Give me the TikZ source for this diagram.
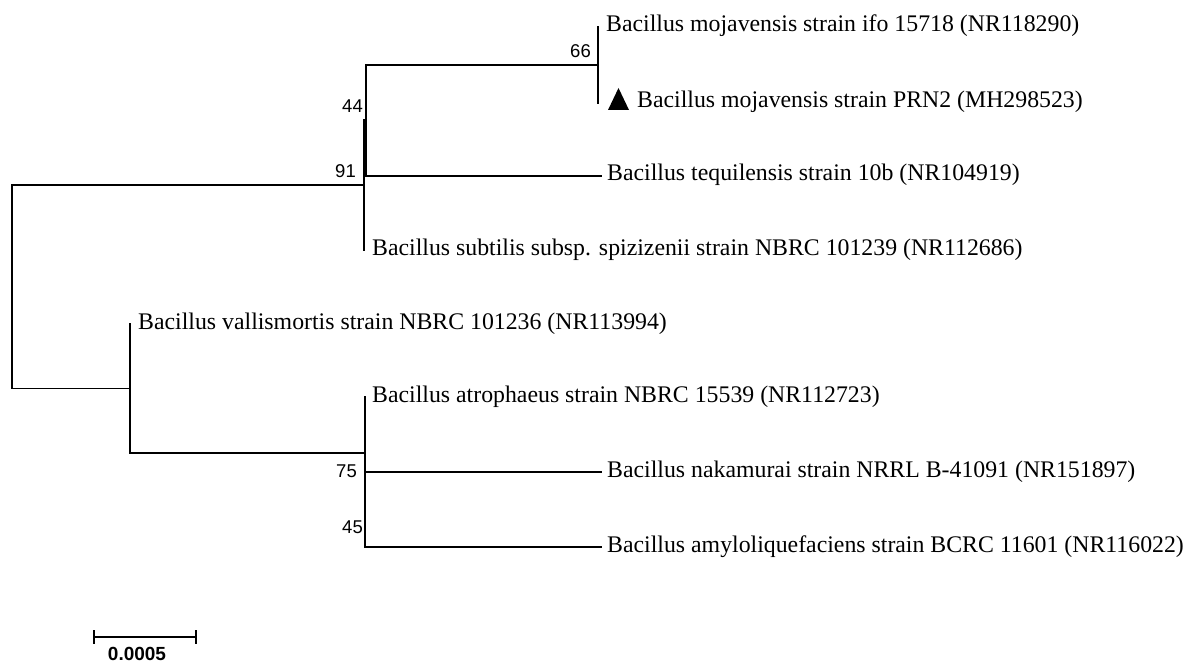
\documentclass[tikz,border=0pt]{standalone}
\usepackage{fontspec}
\setmainfont{Liberation Serif}
\newfontfamily\numfont{Liberation Sans}
\begin{document}
\begin{tikzpicture}[x=1pt,y=-1pt,
  branch/.style={line width=1.5pt, line cap=rect},
  leaf/.style={font=\fontsize{23.8}{24}\selectfont, inner sep=0pt, anchor=base west},
  boot/.style={font=\numfont\fontsize{18.5}{18.5}\selectfont, inner sep=0pt, anchor=base east},
  scalelab/.style={font=\numfont\bfseries\fontsize{19}{19}\selectfont, inner sep=0pt}]
\useasboundingbox (0,0) rectangle (1185,663);
% internal nodes
\coordinate (R)   at (12,286.5);
\coordinate (N91) at (364,185);
\coordinate (N91t) at (364,120);
\coordinate (N44) at (365.8,120);
\coordinate (N66) at (598,65);
\coordinate (NV)  at (130,388.5);
\coordinate (N75) at (365,453);
\coordinate (N45) at (365,509.5);
% leaves
\coordinate (L1) at (598,27);
\coordinate (L2) at (598,103);
\coordinate (L3) at (601,176);
\coordinate (L4) at (364,250);
\coordinate (L5) at (130,324);
\coordinate (L6) at (365,397);
\coordinate (L7) at (601,472);
\coordinate (L8) at (601,547);
% branches
\draw[branch] (R) |- (N91);
\draw[branch] (R) |- (NV);
\draw[branch] (N91t) -- (L4);
\draw[branch] (N44) |- (N66);
\draw[branch] (N44) |- (L3);
\draw[branch] (L1) -- (L2);
\draw[branch] (NV) -- (L5);
\draw[branch] (NV) |- (N75);
\draw[branch] (N75) -- (L6);
\draw[branch] (N75) -- (N45);
\draw[branch] (N45) |- (L7);
\draw[branch] (N45) |- (L8);
% leaf labels
\node[leaf] (t1) at ([xshift=8pt,yshift=-5pt]L1) {Bacillus mojavensis strain ifo 15718 (NR118290)};
\fill (608,110) -- (629,110) -- (618.5,88) -- cycle;
\node[leaf] (t2) at ([xshift=39pt,yshift=-5pt]L2) {Bacillus mojavensis strain PRN2 (MH298523)};
\node[leaf] (t3) at ([xshift=6pt,yshift=-5pt]L3) {Bacillus tequilensis strain 10b (NR104919)};
\node[leaf] (t4) at ([xshift=8pt,yshift=-5pt]L4) {Bacillus subtilis subsp. spizizenii strain NBRC 101239 (NR112686)};
\node[leaf] (t5) at ([xshift=8pt,yshift=-5pt]L5) {Bacillus vallismortis strain NBRC 101236 (NR113994)};
\node[leaf] (t6) at ([xshift=7pt,yshift=-5pt]L6) {Bacillus atrophaeus strain NBRC 15539 (NR112723)};
\node[leaf] (t7) at ([xshift=6pt,yshift=-5pt]L7) {Bacillus nakamurai strain NRRL B-41091 (NR151897)};
\node[leaf] (t8) at ([xshift=6pt,yshift=-5pt]L8) {Bacillus amyloliquefaciens strain BCRC 11601 (NR116022)};
% bootstrap values
\node[boot] (b66) at (591,57.5) {66};
\node[boot] (b44) at (363,113) {44};
\node[boot] (b91) at (356,177.5) {91};
\node[boot] (b75) at (357,477) {75};
\node[boot] (b45) at (363,533) {45};
% scale bar
\coordinate (S1) at (94,637);
\coordinate (S2) at (196,637);
\draw[line width=1.5pt] (S1) -- (S2);
\draw[line width=1.5pt] ([yshift=7pt]S1) -- ([yshift=-7pt]S1);
\draw[line width=1.5pt] ([yshift=7pt]S2) -- ([yshift=-7pt]S2);
\node[scalelab] (sl) at (137,654) {0.0005};
\end{tikzpicture}
\end{document}
